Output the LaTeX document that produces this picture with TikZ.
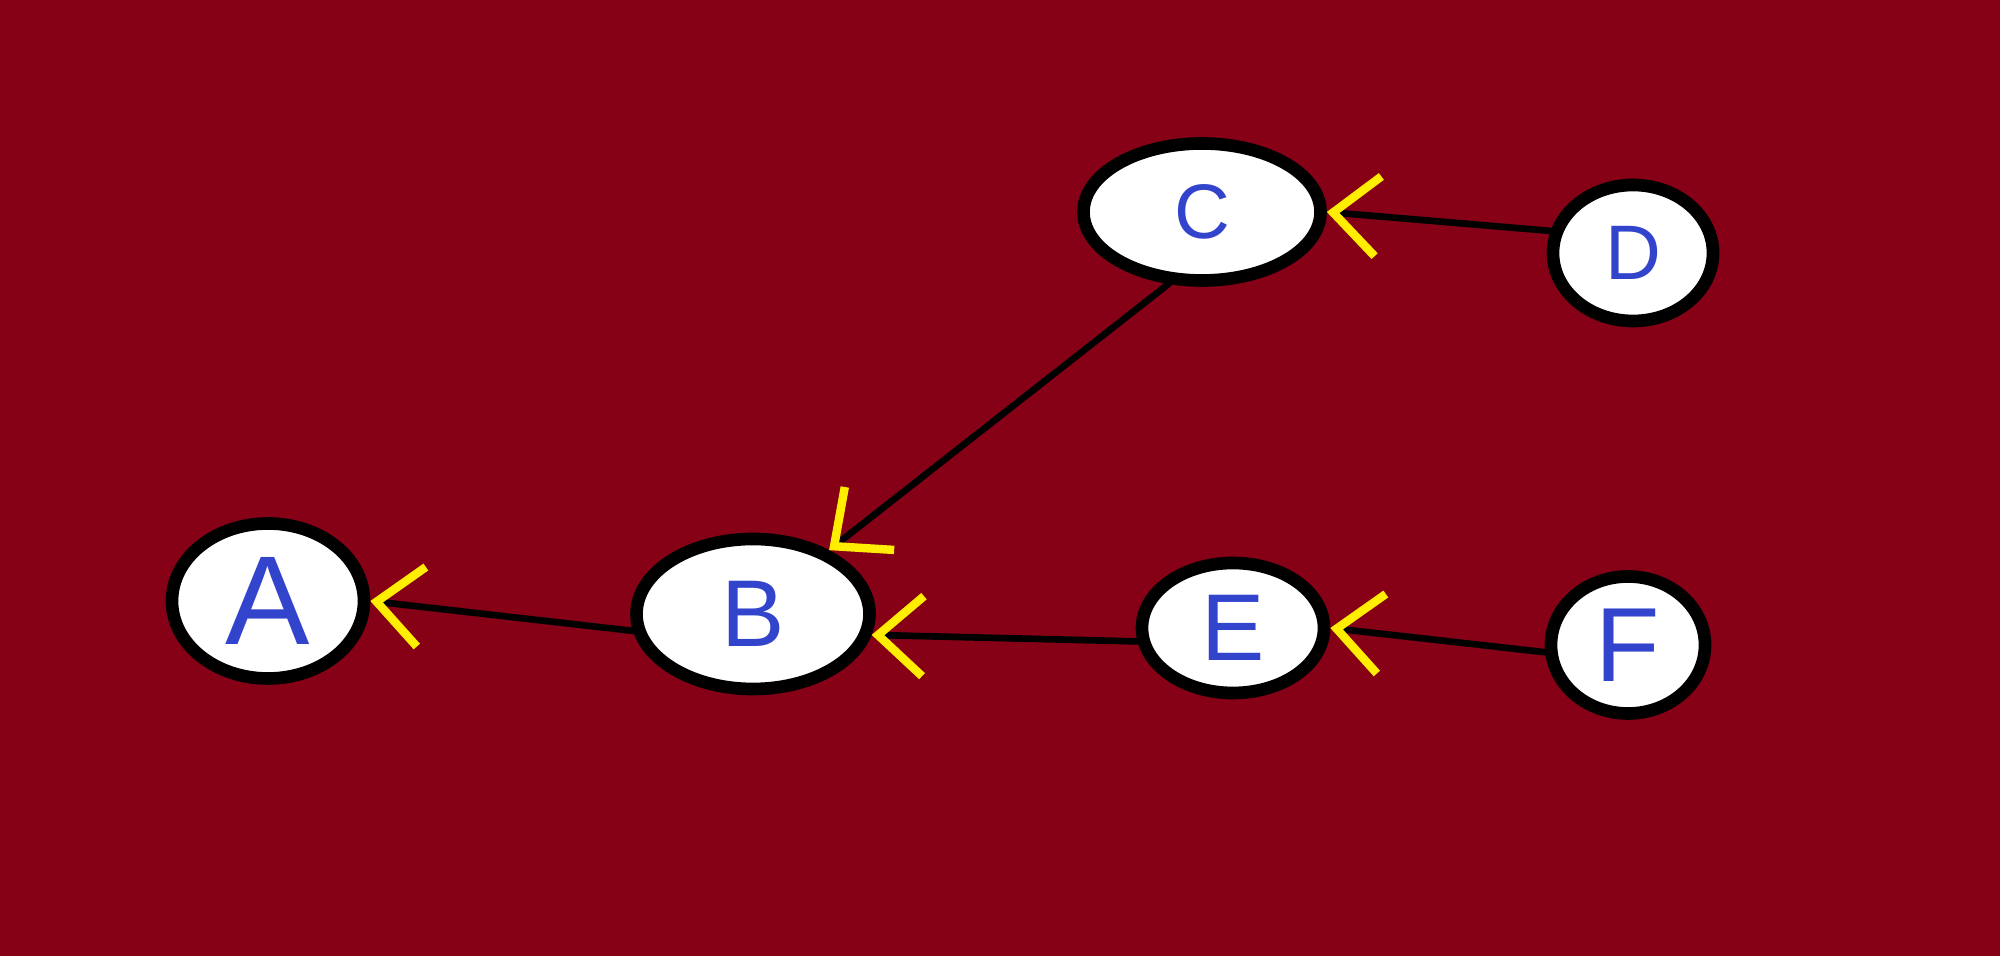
\documentclass[tikz,border=0pt]{standalone}
\usepackage{fontspec}
\setmainfont{Liberation Sans}
\usetikzlibrary{arrows.meta,shapes.geometric}
\definecolor{bgred}{RGB}{134,0,22}
\definecolor{penblue}{RGB}{51,68,204}
\definecolor{penyellow}{RGB}{255,238,0}
\def\pen#1{\fontsize{#1}{#1}\selectfont}
\tikzset{
	blob/.style={ellipse, draw=black, fill=white, line width=3.6pt, inner sep=0pt, text=penblue},
	link/.style={draw=black, line width=1.9pt, line cap=round,
		-{Straight Barb[color=penyellow, line width=2.4pt, length=0.45cm, width=0.8cm]}}
}

\begin{document}
\begin{tikzpicture}
			%%%%% START %%%%%
			\fill[bgred] (0, 0) rectangle (20, 9.56);
			
			\node[blob, font=\pen{36}, minimum width=1.92cm, minimum height=1.55cm] (A) at (2.68, 3.55) {A};
			\node[blob, font=\pen{27}, minimum width=2.33cm, minimum height=1.50cm] (B) at (7.53, 3.42) {B};
			\node[blob, font=\pen{22}, minimum width=2.37cm, minimum height=1.37cm] (C) at (12.02, 7.44) {C};
			\node[blob, font=\pen{22}, minimum width=1.60cm, minimum height=1.36cm] (D) at (16.33, 7.03) {D};
			\node[blob, font=\pen{27}, minimum width=1.82cm, minimum height=1.30cm] (E) at (12.33, 3.28) {E};
			\node[blob, font=\pen{30}, minimum width=1.54cm, minimum height=1.37cm] (F) at (16.28, 3.11) {F};
			
			\draw[link] (B.188) -- (A.east);
			\draw[link] (C.-115) -- (B.40);
			\draw[link] (E.188) -- (B.-10);
			\draw[link] (D.165) -- (C.east);
			\draw[link] (F.185) -- (E.east);
			%%%%% END %%%%%
\end{tikzpicture}
\end{document}
